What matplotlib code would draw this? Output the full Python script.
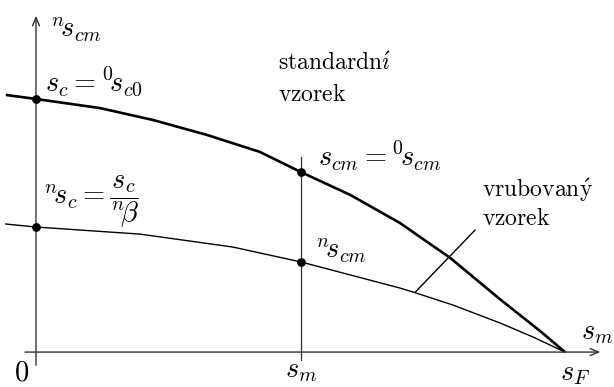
import numpy as np
import matplotlib.pyplot as plt

plt.rcParams['mathtext.fontset'] = 'cm'

# --- curve data (s_m normalised so that s_F = 1, stress normalised to s_c = 1) ---
sm_std = [-0.057, 0.0, 0.121, 0.221, 0.323, 0.423, 0.501, 0.594, 0.688, 0.783, 0.877, 0.953, 1.0]
scm_std = [1.016, 1.0, 0.964, 0.917, 0.858, 0.791, 0.711, 0.621, 0.510, 0.372, 0.209, 0.083, 0.0]

sm_notch = [-0.057, 0.0, 0.197, 0.372, 0.501, 0.688, 0.713, 0.788, 0.877, 0.940, 1.0]
scm_notch = [0.506, 0.494, 0.466, 0.415, 0.356, 0.253, 0.237, 0.186, 0.115, 0.059, 0.0]

s_m = 0.501
s_F = 1.0
# marked points: (x, y)
dots_x = [0.0, 0.0, s_m, s_m]
dots_y = [1.0, 0.494, 0.711, 0.356]

fig = plt.figure(figsize=(6.14, 3.87), dpi=100)
ax = fig.add_axes([0, 0, 1, 1])
ax.set_xlim(-0.068, 1.0926)
ax.set_ylim(-0.138, 1.391)
ax.axis('off')

axis_col = '#333333'
# axes with arrows
ax.annotate('', xy=(1.072, 0), xytext=(-0.026, 0),
            arrowprops=dict(arrowstyle='->,head_length=0.6,head_width=0.25', lw=1.0, color=axis_col))
ax.annotate('', xy=(0, 1.34), xytext=(0, -0.063),
            arrowprops=dict(arrowstyle='->,head_length=0.6,head_width=0.25', lw=1.0, color=axis_col))

# vertical line at s_m
ax.plot([s_m, s_m], [-0.032, 0.771], color=axis_col, lw=0.9)

# curves
ax.plot(sm_std, scm_std, color='black', lw=1.9, solid_capstyle='butt')
ax.plot(sm_notch, scm_notch, color='black', lw=1.0)

# leader line for the notched specimen label
ax.plot([0.717, 0.830], [0.237, 0.482], color='black', lw=1.0)

ax.scatter(dots_x, dots_y, s=28, color='black', zorder=5)

fs_m = 20.5
fs_t = 17
ax.text(0.027, 1.245, r'${}^{n}\!s_{cm}$', fontsize=fs_m, ha='left', va='baseline')
ax.text(0.017, 1.028, r'$s_c = {}^{0}\!s_{c0}$', fontsize=fs_m, ha='left', va='baseline')
ax.text(0.457, 1.115, r'$\mathrm{standardn\acute{\imath}}$', fontsize=fs_t, ha='left', va='baseline')
ax.text(0.457, 0.992, r'$\mathrm{vzorek}$', fontsize=fs_t, ha='left', va='baseline')
ax.text(0.533, 0.735, r'$s_{cm} = {}^{0}\!s_{cm}$', fontsize=fs_m, ha='left', va='baseline')
ax.text(0.843, 0.613, r'$\mathrm{vrubovan\acute{y}}$', fontsize=fs_t, ha='left', va='baseline')
ax.text(0.843, 0.502, r'$\mathrm{vzorek}$', fontsize=fs_t, ha='left', va='baseline')
ax.text(0.013, 0.593, r'${}^{n}\!s_c = \dfrac{s_c}{{}^{n}\!\beta}$', fontsize=fs_m, ha='left', va='center')
ax.text(0.527, 0.372, r'${}^{n}\!s_{cm}$', fontsize=fs_m, ha='left', va='baseline')
ax.text(1.030, 0.050, r'$s_m$', fontsize=fs_m, ha='left', va='baseline')
ax.text(-0.027, -0.113, r'$0$', fontsize=fs_m, ha='center', va='baseline')
ax.text(s_m, -0.100, r'$s_m$', fontsize=fs_m, ha='center', va='baseline')
ax.text(s_F + 0.019, -0.110, r'$s_F$', fontsize=fs_m, ha='center', va='baseline')

fig.savefig('out.png', dpi=100)
